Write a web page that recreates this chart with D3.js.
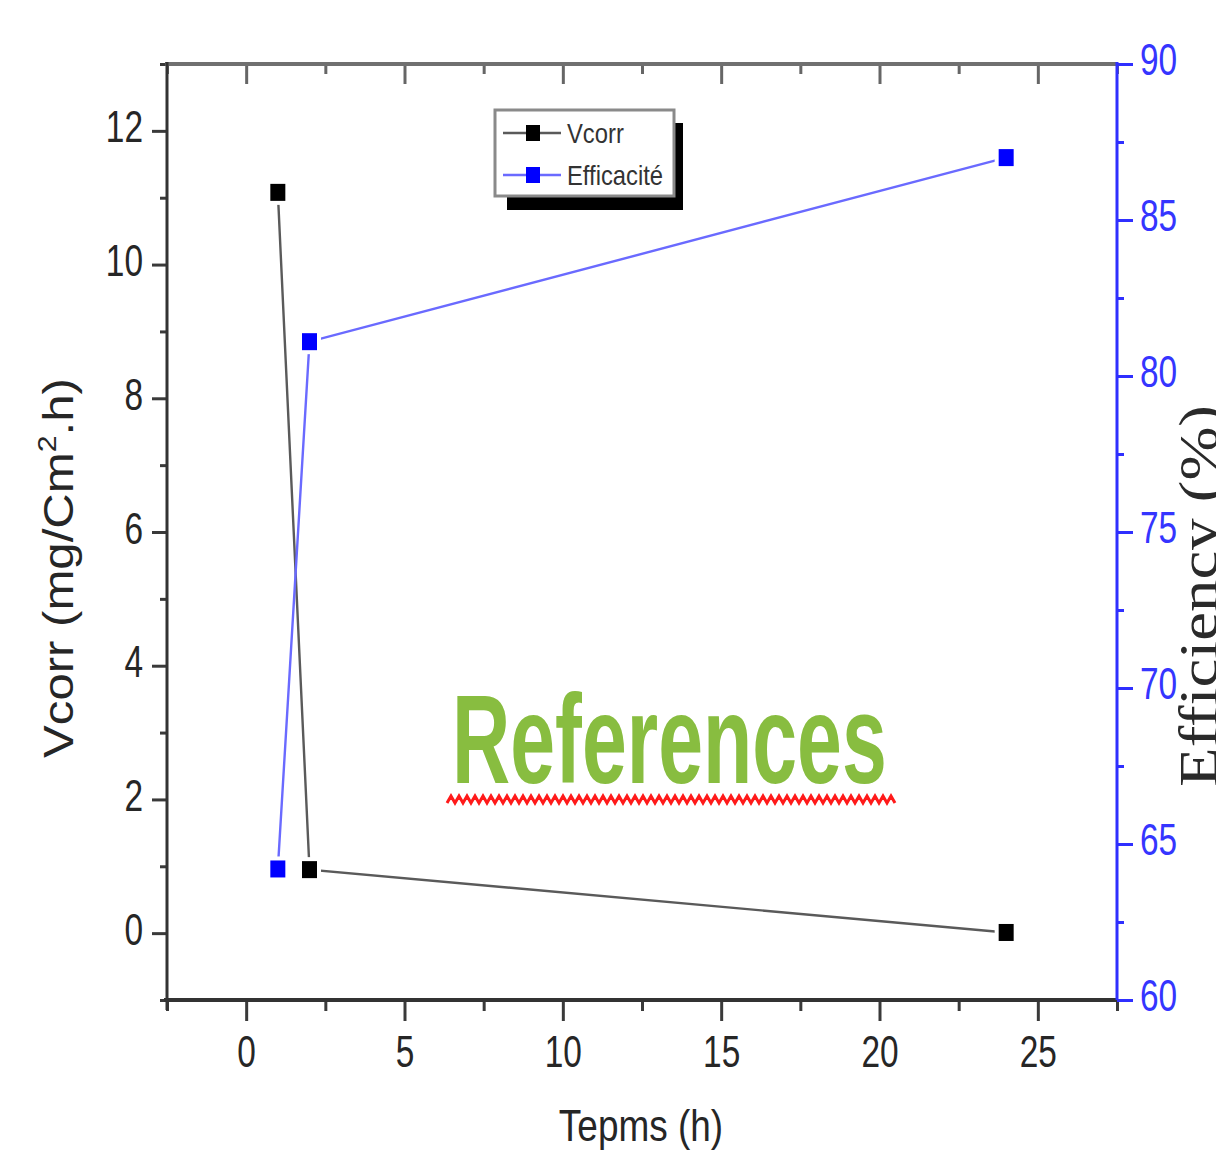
<!DOCTYPE html>
<html><head><meta charset="utf-8">
<script src="https://cdn.jsdelivr.net/npm/d3@7"></script>
<style>body{margin:0;background:#fff} svg{display:block}</style>
</head><body><svg id="c" width="1216" height="1152"></svg>
<script>
// ---- data ----
const timeH = [1, 2, 24];
const vcorr = [11.08, 0.95, 0.01];
const efficacite = [64.2, 81.1, 87.0];
const seriesNames = ["Vcorr", "Efficacité"];
const xTicks = [0, 5, 10, 15, 20, 25];
const xMinor = [-2.5, 2.5, 7.5, 12.5, 17.5, 22.5, 27.5];
const yLeftTicks = [0, 2, 4, 6, 8, 10, 12];
const yLeftMinor = [-1, 1, 3, 5, 7, 9, 11, 13];
const yRightTicks = [60, 65, 70, 75, 80, 85, 90];
const yRightMinor = [62.5, 67.5, 72.5, 77.5, 82.5, 87.5];

// ---- layout ----
const L = 167, R = 1117, T = 64, B = 1000;
const svg = d3.select("#c");
const x = d3.scaleLinear().domain([-2.5, 27.5]).range([L, R]);
const yL = d3.scaleLinear().domain([-1, 13]).range([B, T]);
const yR = d3.scaleLinear().domain([60, 90]).range([B, T]);

const dark = "#3a3a3a", blue = "#2f2fff", txt = "#262626";
const SX = 0.76;

function styleAxis(g, color, w) {
  g.select(".domain").remove();
  g.selectAll(".tick line").attr("stroke", color).attr("stroke-width", w);
}

// bottom axis
const gB = svg.append("g").attr("transform", `translate(0,${B})`);
gB.call(d3.axisBottom(x).tickValues(xMinor).tickSize(11).tickFormat(""));
styleAxis(gB, dark, 3);
const gB2 = svg.append("g").attr("transform", `translate(0,${B})`);
gB2.call(d3.axisBottom(x).tickValues(xTicks).tickSize(21).tickFormat(d3.format("d")));
styleAxis(gB2, dark, 3);
gB2.selectAll(".tick text").attr("y", 67).attr("dy", 0)
  .attr("font-family", "Liberation Sans, Arial, sans-serif").attr("font-size", 44)
  .attr("fill", txt).attr("transform", `scale(${SX},1)`);

// top axis (inward ticks)
const gT = svg.append("g").attr("transform", `translate(0,${T})`);
gT.call(d3.axisTop(x).tickValues(xMinor).tickSize(-10).tickFormat(""));
styleAxis(gT, "#666", 3);
const gT2 = svg.append("g").attr("transform", `translate(0,${T})`);
gT2.call(d3.axisTop(x).tickValues(xTicks).tickSize(-20).tickFormat(""));
styleAxis(gT2, "#666", 3);

// left axis
const gL = svg.append("g").attr("transform", `translate(${L},0)`);
gL.call(d3.axisLeft(yL).tickValues(yLeftMinor).tickSize(7).tickFormat(""));
styleAxis(gL, dark, 3);
const gL2 = svg.append("g").attr("transform", `translate(${L},0)`);
gL2.call(d3.axisLeft(yL).tickValues(yLeftTicks).tickSize(15).tickFormat(d3.format("d")));
styleAxis(gL2, dark, 3);
gL2.selectAll(".tick text").attr("x", -24 / SX).attr("dy", 0).attr("y", 11)
  .attr("font-family", "Liberation Sans, Arial, sans-serif").attr("font-size", 44)
  .attr("fill", txt).attr("transform", `scale(${SX},1)`);

// right axis
const gR = svg.append("g").attr("transform", `translate(${R},0)`);
gR.call(d3.axisRight(yR).tickValues(yRightMinor).tickSize(7).tickFormat(""));
styleAxis(gR, blue, 3);
const gR2 = svg.append("g").attr("transform", `translate(${R},0)`);
gR2.call(d3.axisRight(yR).tickValues(yRightTicks).tickSize(16).tickFormat(d3.format("d")));
styleAxis(gR2, blue, 3);
gR2.selectAll(".tick text").attr("x", 23 / SX).attr("dy", 0).attr("y", 10)
  .attr("font-family", "Liberation Sans, Arial, sans-serif").attr("font-size", 44)
  .attr("fill", "#3535ff").attr("transform", `scale(${SX},1)`);

// axis lines
svg.append("line").attr("x1", L - 2).attr("x2", R).attr("y1", T).attr("y2", T)
  .attr("stroke", "#707070").attr("stroke-width", 4);
svg.append("line").attr("x1", L - 3).attr("x2", R).attr("y1", B).attr("y2", B)
  .attr("stroke", "#333").attr("stroke-width", 4);
svg.append("line").attr("x1", L).attr("x2", L).attr("y1", T - 2).attr("y2", B + 10)
  .attr("stroke", "#333").attr("stroke-width", 3);
svg.append("line").attr("x1", R).attr("x2", R).attr("y1", T - 2).attr("y2", B)
  .attr("stroke", blue).attr("stroke-width", 3);

// ---- watermark ----
svg.append("text").attr("transform", "translate(452,783) scale(0.635,1)")
  .attr("font-family", "Liberation Sans, Arial, sans-serif").attr("font-weight", "bold")
  .attr("font-size", 127).attr("fill", "#88bd40").text("References");
{
  const pts = [];
  for (let px = 447, i = 0; px <= 895; px += 4, i++) pts.push([px, i % 2 ? 796 : 803]);
  svg.append("path").attr("d", d3.line()(pts)).attr("fill", "none")
    .attr("stroke", "#ff1a1a").attr("stroke-width", 3);
}

// ---- series ----
const vData = timeH.map((t, i) => [t, vcorr[i]]);
const eData = timeH.map((t, i) => [t, efficacite[i]]);
const lineV = d3.line().x(d => x(d[0])).y(d => yL(d[1]));
const lineE = d3.line().x(d => x(d[0])).y(d => yR(d[1]));
svg.append("path").attr("d", lineV(vData)).attr("fill", "none").attr("stroke", "#5a5a5a").attr("stroke-width", 2.4);
svg.append("path").attr("d", lineE(eData)).attr("fill", "none").attr("stroke", "#6a6aff").attr("stroke-width", 2.4);

const MW = 15, MH = 17;
function markers(data, ys, color) {
  svg.append("g").selectAll("rect").data(data).join("rect")
    .attr("x", d => x(d[0]) - MW / 2 - 4).attr("y", d => ys(d[1]) - MH / 2 - 4)
    .attr("width", MW + 8).attr("height", MH + 8).attr("fill", "#fff");
  svg.append("g").selectAll("rect").data(data).join("rect")
    .attr("x", d => x(d[0]) - MW / 2).attr("y", d => ys(d[1]) - MH / 2)
    .attr("width", MW).attr("height", MH).attr("fill", color);
}
markers(vData, yL, "#000");
markers(eData, yR, "#0000ff");

// ---- legend ----
svg.append("rect").attr("x", 507).attr("y", 123).attr("width", 176).attr("height", 87).attr("fill", "#000");
svg.append("rect").attr("x", 495).attr("y", 110).attr("width", 179).attr("height", 86)
  .attr("fill", "#fff").attr("stroke", "#8a8a8a").attr("stroke-width", 3);
const legendRows = [
  { name: seriesNames[0], y: 133, line: "#5a5a5a", mk: "#000" },
  { name: seriesNames[1], y: 175, line: "#6a6aff", mk: "#0000ff" }
];
legendRows.forEach(r => {
  svg.append("line").attr("x1", 503).attr("x2", 561).attr("y1", r.y).attr("y2", r.y)
    .attr("stroke", r.line).attr("stroke-width", 2.4);
  svg.append("rect").attr("x", 533 - 7).attr("y", r.y - 8).attr("width", 14).attr("height", 16).attr("fill", r.mk);
  svg.append("text").attr("transform", `translate(567,${r.y + 10}) scale(0.85,1)`)
    .attr("font-family", "Liberation Sans, Arial, sans-serif").attr("font-size", 28)
    .attr("fill", "#333").text(r.name);
});

// ---- axis titles ----
svg.append("text").attr("transform", "translate(641,1141) scale(0.84,1)")
  .attr("text-anchor", "middle").attr("font-family", "Liberation Sans, Arial, sans-serif")
  .attr("font-size", 44).attr("fill", txt).text("Tepms (h)");

const lt = svg.append("text").attr("transform", "translate(73,568) rotate(-90) scale(1.17,1)")
  .attr("text-anchor", "middle").attr("font-family", "Liberation Sans, Arial, sans-serif")
  .attr("font-size", 42).attr("fill", txt);
lt.append("tspan").text("Vcorr (mg/Cm");
lt.append("tspan").attr("font-size", 26).attr("dy", -17).text("2");
lt.append("tspan").attr("dy", 17).text(".h)");

svg.append("text").attr("transform", "translate(1217,596) rotate(-90) scale(1.2,1)")
  .attr("text-anchor", "middle").attr("font-family", "Liberation Serif, Times New Roman, serif")
  .attr("font-size", 54).attr("fill", "#2a2a2a").text("Efficiency (%)");
</script></body></html>
